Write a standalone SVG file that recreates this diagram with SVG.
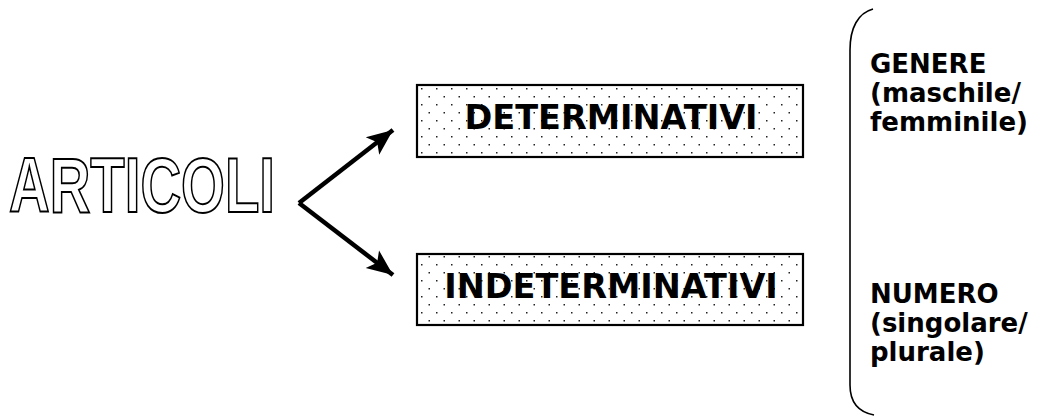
<svg xmlns="http://www.w3.org/2000/svg" width="1042" height="418" viewBox="0 0 1042 418">
  <defs>
    <pattern id="dots" patternUnits="userSpaceOnUse" x="417" y="85" width="15" height="16">
      <rect x="0" y="0" width="15" height="16" fill="#ffffff"/>
      <rect x="4" y="3" width="1.5" height="1.5" fill="#222222"/>
      <rect x="11.5" y="11" width="1.5" height="1.5" fill="#222222"/>
    </pattern>
    <marker id="arrow" markerUnits="userSpaceOnUse" markerWidth="28" markerHeight="24" refX="26" refY="12" orient="auto">
      <path d="M0,1 L26,12 L0,23 L6,12 Z" fill="#000"/>
    </marker>
    <style>
      .box { fill: url(#dots); stroke: #000; stroke-width: 2.2; }
      .boxtext { font-family: "DejaVu Sans", Verdana, sans-serif; font-weight: bold; font-size: 33.5px; fill: #000; text-anchor: middle; }
      .side { font-family: "DejaVu Sans", Verdana, sans-serif; font-weight: bold; font-size: 26px; fill: #000; }
      .title { font-family: "Liberation Sans", Arial, sans-serif; font-weight: bold; font-size: 78px; fill: #fff; stroke: #000; stroke-width: 2; }
      .conn { stroke: #000; stroke-width: 4.5; fill: none; }
      .bracket { stroke: #000; stroke-width: 1.6; fill: none; }
    </style>
  </defs>

  <g id="articoli">
    <text class="title" x="9" y="212" textLength="266" lengthAdjust="spacingAndGlyphs">ARTICOLI</text>
  </g>

  <g id="connectors">
    <line class="conn" x1="299" y1="203" x2="393" y2="130" marker-end="url(#arrow)"/>
    <line class="conn" x1="299" y1="203" x2="393" y2="275" marker-end="url(#arrow)"/>
  </g>

  <g id="determinativi">
    <rect class="box" x="417" y="85" width="386" height="72"/>
    <text class="boxtext" x="611" y="129">DETERMINATIVI</text>
  </g>

  <g id="indeterminativi">
    <rect class="box" x="417" y="254" width="386" height="71"/>
    <text class="boxtext" x="611" y="298">INDETERMINATIVI</text>
  </g>

  <g id="bracket">
    <path class="bracket" d="M873,9 C858,13 850,28 850,50 L850,385 C850,402 858,412 874,415"/>
  </g>

  <g id="genere">
    <text class="side" x="870" y="73">GENERE</text>
    <text class="side" x="870" y="102">(maschile/</text>
    <text class="side" x="870" y="131">femminile)</text>
  </g>

  <g id="numero">
    <text class="side" x="870" y="303">NUMERO</text>
    <text class="side" x="870" y="332">(singolare/</text>
    <text class="side" x="870" y="361">plurale)</text>
  </g>
</svg>
